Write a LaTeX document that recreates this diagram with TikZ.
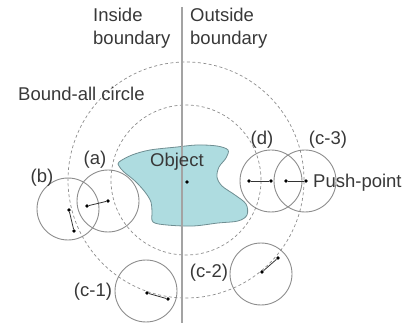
\documentclass[tikz,border=0pt]{standalone}
\usepackage{fontspec}
\setmainfont{Liberation Sans}
\usetikzlibrary{positioning}
\definecolor{rim}{HTML}{8C8C8C}
\definecolor{ink}{HTML}{383838}
\definecolor{objfill}{HTML}{AEDCE0}
\definecolor{objline}{HTML}{6F8E92}

\begin{document}
\begin{tikzpicture}[
  x=1pt, y=-1pt,
  every node/.style={font=\fontsize{18.5}{23}\selectfont, text=ink, inner sep=0pt},
  bound/.style={draw=rim, dash pattern=on 3pt off 2.5pt, line width=0.7pt},
  probe/.style={circle, draw=rim, line width=0.9pt, minimum size=62pt},
  pt/.style={circle, fill=black, inner sep=0pt, minimum size=3.8pt},
  seg/.style={line width=0.8pt, black!80},
  divider/.style={draw=rim!80, line width=1.3pt}
]
\useasboundingbox (0,0) rectangle (407,331);

% bound-all circle and inner boundary
\coordinate (ctr) at (186,180);
\draw[bound] (ctr) circle (118pt);
\draw[bound] (ctr) circle (75pt);

% object
\draw[objline, fill=objfill, line width=0.8pt] plot[smooth cycle, tension=0.55] coordinates {
  (119,162) (132,155) (150,150) (177,147) (197,145) (217,146) (228,150)
  (226,158) (219,167) (217,177) (222,186) (235,195) (246,204) (247,215)
  (238,221) (218,223) (193,226) (167,225) (153,222) (152,212) (151,202)
  (145,192) (135,181) (124,172) (119,166)};

% boundary line
\coordinate (top) at (182,7);
\coordinate (bot) at (182,323);
\draw[divider] (top) -- (bot);

% probes
\node[probe] (ca) at (108,201) {};
\node[probe] (cb) at (68,209) {};
\node[probe] (cc1) at (146,291) {};
\node[probe] (cc2) at (261,274) {};
\node[probe] (cd) at (271,181) {};
\node[probe] (cc3) at (305,181) {};

% push-points
\node[pt] (obj) at (187,182) {};
\node[pt] (pa) at (108,201) {};
\node[pt] (qa) at (87,206) {};
\node[pt] (pb) at (69,210) {};
\node[pt] (qb) at (74,231) {};
\node[pt] (pc1) at (147,293) {};
\node[pt] (qc1) at (168,299) {};
\node[pt] (pc2) at (262,272) {};
\node[pt] (qc2) at (278,258) {};
\node[pt] (pd) at (271,181) {};
\node[pt] (qd) at (249,181) {};
\node[pt] (pc3) at (306,181) {};
\node[pt] (qc3) at (286,181) {};

\draw[seg] (pa) -- (qa);
\draw[seg] (pb) -- (qb);
\draw[seg] (pc1) -- (qc1);
\draw[seg] (pc2) -- (qc2);
\draw[seg] (pd) -- (qd);
\draw[seg] (pc3) -- (qc3);

% labels
\node[anchor=north west, align=left] (inside) at (93,8) {Inside\\boundary};
\node[anchor=north west, align=left] (outside) at (190,8) {Outside\\boundary};
\node[anchor=base west] (boundall) at (18,101) {Bound-all circle};
\node[anchor=base west] (objlbl) at (150,167) {Object};
\node[anchor=base west] (push) at (313,188) {Push-point};
\node (la) at (95,160) {(a)};
\node (lb) at (42,178) {(b)};
\node (lc1) at (93,292) {(c-1)};
\node (lc2) at (209,273) {(c-2)};
\node (ld) at (262,140) {(d)};
\node (lc3) at (328,140) {(c-3)};
\end{tikzpicture}
\end{document}
